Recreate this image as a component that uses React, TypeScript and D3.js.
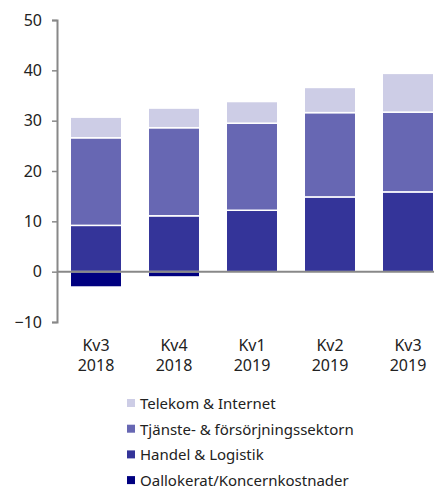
import React, { useRef, useEffect } from 'react';
import * as d3 from 'd3';

const quarters = ['Kv3|2018', 'Kv4|2018', 'Kv1|2019', 'Kv2|2019', 'Kv3|2019'];
const handel = [9.2, 11.1, 12.2, 14.85, 15.85];
const tjanste = [17.4, 17.5, 17.3, 16.75, 15.85];
const telekom = [4.1, 3.9, 4.3, 5.0, 7.7];
const oallokerat = [-3.05, -1.05, 0, 0, 0];
const yTicks = [-10, 0, 10, 20, 30, 40, 50];
const seriesNames = ['Telekom & Internet', 'Tjänste- & försörjningssektorn', 'Handel & Logistik', 'Oallokerat/Koncernkostnader'];
const seriesColors = ['#cdcde6', '#6767b3', '#343499', '#000080'];

export default function App() {
  const svgEl = useRef<SVGSVGElement>(null);

  useEffect(() => {
    const svg = d3.select(svgEl.current);
    svg.selectAll('*').remove();
    const font = '"Noto Sans", sans-serif';

    const x = d3.scaleBand().domain(quarters).range([57, 447]).paddingInner(0.34).paddingOuter(0.17);
    const y = d3.scaleLinear().domain([-10, 50]).range([322, 20]);

    const g = svg.append('g');
    quarters.forEach((q, i) => {
      const stack = [
        { v0: 0, v1: handel[i], c: seriesColors[2] },
        { v0: handel[i], v1: handel[i] + tjanste[i], c: seriesColors[1] },
        { v0: handel[i] + tjanste[i], v1: handel[i] + tjanste[i] + telekom[i], c: seriesColors[0] },
        { v0: oallokerat[i], v1: 0, c: seriesColors[3] },
      ];
      stack.forEach((s) => {
        if (s.v1 - s.v0 <= 0) return;
        g.append('rect')
          .attr('x', x(q)!)
          .attr('width', x.bandwidth())
          .attr('y', y(s.v1))
          .attr('height', y(s.v0) - y(s.v1))
          .attr('fill', s.c)
          .attr('stroke', '#fff')
          .attr('stroke-width', 1.5);
      });
    });

    // y axis
    const ya = svg.append('g').attr('transform', 'translate(57,0)')
      .call(d3.axisLeft(y).tickValues(yTicks).tickSize(5).tickPadding(10));
    ya.select('.domain').attr('stroke', '#888').attr('stroke-width', 2);
    ya.selectAll('.tick line').attr('stroke', '#888').attr('stroke-width', 1.5);
    ya.selectAll('.tick text').attr('fill', '#222').style('font-family', font).style('font-size', '16px');

    // zero line
    svg.append('line').attr('x1', 57).attr('x2', 434).attr('y1', y(0)).attr('y2', y(0))
      .attr('stroke', '#888').attr('stroke-width', 2);

    // x labels
    quarters.forEach((q) => {
      const [a, b] = q.split('|');
      const cx = x(q)! + x.bandwidth() / 2;
      const t = svg.append('text').attr('text-anchor', 'middle').attr('fill', '#222')
        .style('font-family', font).style('font-size', '16px');
      t.append('tspan').attr('x', cx).attr('y', 351).text(a);
      t.append('tspan').attr('x', cx).attr('y', 371).text(b);
    });

    // legend
    seriesNames.forEach((n, i) => {
      const ly = 409 + i * 25.7;
      svg.append('rect').attr('x', 127).attr('y', ly - 10).attr('width', 8).attr('height', 8).attr('fill', seriesColors[i]);
      svg.append('text').attr('x', 140).attr('y', ly).attr('fill', '#222')
        .style('font-family', font).style('font-size', '15px').text(n);
    });
  }, []);

  return (
    <svg ref={svgEl} width={434} height={490} style={{ position: 'absolute', left: 0, top: 0, background: '#fff' }} />
  );
}
